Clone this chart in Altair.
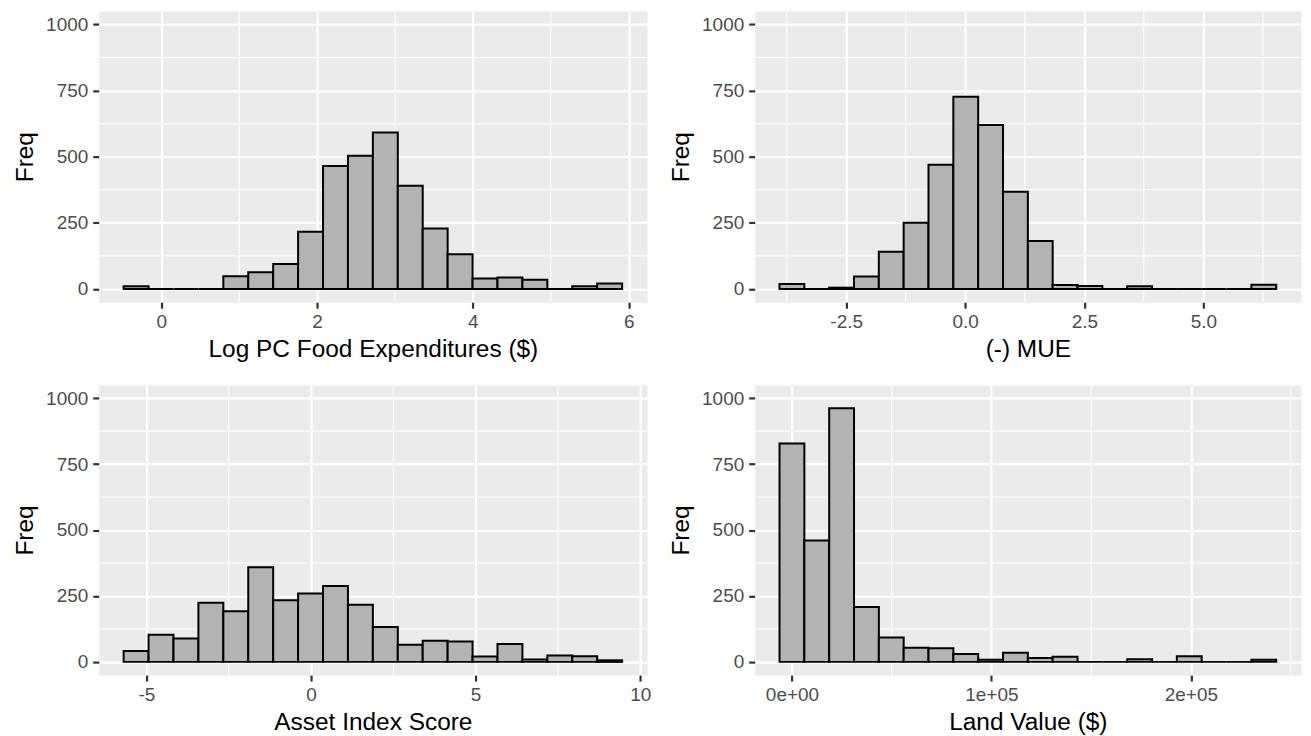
import altair as alt
import pandas as pd

FONT = "Liberation Sans"

# ---- data (20 bins each) ----
food_counts = [10, 0, 0, 0, 48, 63, 94, 216, 465, 503, 591, 390, 229, 131, 40, 43, 35, 0, 10, 21]
food_start, food_width = -0.484, 0.32
food_domain = [-0.804, 6.236]
food_major = [0, 2, 4, 6]
food_minor = [1, 3, 5]
food_labels = ["0", "2", "4", "6"]
food_title = "Log PC Food Expenditures ($)"

mue_counts = [19, 0, 5, 47, 141, 250, 469, 726, 620, 367, 181, 15, 11, 0, 10, 0, 0, 0, 0, 16]
mue_start, mue_width = -3.90, 0.5215
mue_domain = [-4.42, 7.05]
mue_major = [-2.5, 0, 2.5, 5]
mue_minor = [-3.75, -1.25, 1.25, 3.75, 6.25]
mue_labels = ["-2.5", "0.0", "2.5", "5.0"]
mue_title = "(-) MUE"

asset_counts = [41, 103, 89, 224, 192, 359, 234, 259, 288, 217, 132, 65, 80, 77, 20, 68, 9, 24, 21, 6]
asset_start, asset_width = -5.69, 0.757
asset_domain = [-6.447, 10.207]
asset_major = [-5, 0, 5, 10]
asset_minor = [-2.5, 2.5, 7.5]
asset_labels = ["-5", "0", "5", "10"]
asset_title = "Asset Index Score"

land_counts = [828, 460, 962, 208, 92, 54, 52, 30, 8, 35, 15, 19, 0, 0, 10, 0, 21, 0, 0, 8]
land_start, land_width = -6225, 12450
land_domain = [-18675, 255225]
land_major = [0, 100000, 200000]
land_minor = [50000, 150000, 250000]
land_labels = ["0e+00", "1e+05", "2e+05"]
land_title = "Land Value ($)"

y_domain = [-50, 1050]
y_major = [0, 250, 500, 750, 1000]
y_minor = [125, 375, 625, 875]
y_labels = ["0", "250", "500", "750", "1000"]
y_title = "Freq"


def label_expr(vals, labels):
    expr = "''"
    for v, l in reversed(list(zip(vals, labels))):
        expr = f"datum.value == {v} ? '{l}' : {expr}"
    return expr


def panel(counts, start, width, domain, major, minor, labels, title, w, h):
    n = len(counts)
    bins = pd.DataFrame({
        "x0": [start + i * width for i in range(n)],
        "x1": [start + (i + 1) * width for i in range(n)],
        "count": counts,
    })
    xscale = alt.Scale(domain=domain, nice=False, zero=False)
    yscale = alt.Scale(domain=y_domain, nice=False, zero=False)
    xaxis = alt.Axis(values=major, labelExpr=label_expr(major, labels), title=title)
    yaxis = alt.Axis(values=y_major, labelExpr=label_expr(y_major, y_labels), title=y_title)

    xminor = alt.Chart(pd.DataFrame({"v": minor})).mark_rule(
        color="white", strokeWidth=1.1
    ).encode(x=alt.X("v:Q", scale=xscale, axis=xaxis))
    yminor = alt.Chart(pd.DataFrame({"v": y_minor})).mark_rule(
        color="white", strokeWidth=1.1
    ).encode(y=alt.Y("v:Q", scale=yscale, axis=yaxis))
    bars = alt.Chart(bins).mark_rect(
        fill="#B3B3B3", stroke="black", strokeWidth=2.0
    ).encode(
        x=alt.X("x0:Q", scale=xscale, axis=xaxis),
        x2="x1:Q",
        y=alt.Y("count:Q", scale=yscale, axis=yaxis),
        y2=alt.datum(0),
    )
    return alt.layer(xminor, yminor, bars).properties(width=w, height=h)


p1 = panel(food_counts, food_start, food_width, food_domain, food_major, food_minor,
           food_labels, food_title, 550, 292)
p2 = panel(mue_counts, mue_start, mue_width, mue_domain, mue_major, mue_minor,
           mue_labels, mue_title, 548, 292)
p3 = panel(asset_counts, asset_start, asset_width, asset_domain, asset_major, asset_minor,
           asset_labels, asset_title, 550, 291)
p4 = panel(land_counts, land_start, land_width, land_domain, land_major, land_minor,
           land_labels, land_title, 548, 291)

chart = alt.ConcatChart(
    concat=[p1, p2, p3, p4],
    columns=2,
    spacing={"row": 83, "column": 108},
    bounds="flush",
).properties(
    padding={"left": 3, "top": 0, "right": 0, "bottom": 0}
).configure_view(
    fill="#EBEBEB", stroke="transparent"
).configure_axis(
    labelFont=FONT, labelFontSize=19, labelColor="#4D4D4D",
    titleFont=FONT, titleFontSize=24.5, titleColor="black", titleFontWeight="normal",
    tickColor="#333333", tickWidth=2.2, tickSize=6,
    domain=False, grid=True, gridColor="white", gridWidth=2.2,
).configure_axisX(
    labelPadding=4.5, minExtent=29.5, maxExtent=29.5, titlePadding=6,
).configure_axisY(
    labelPadding=5, minExtent=53.3, maxExtent=53.3, titlePadding=8.5,
)

chart.save("out.html", embed_options={"renderer": "svg", "actions": False})
